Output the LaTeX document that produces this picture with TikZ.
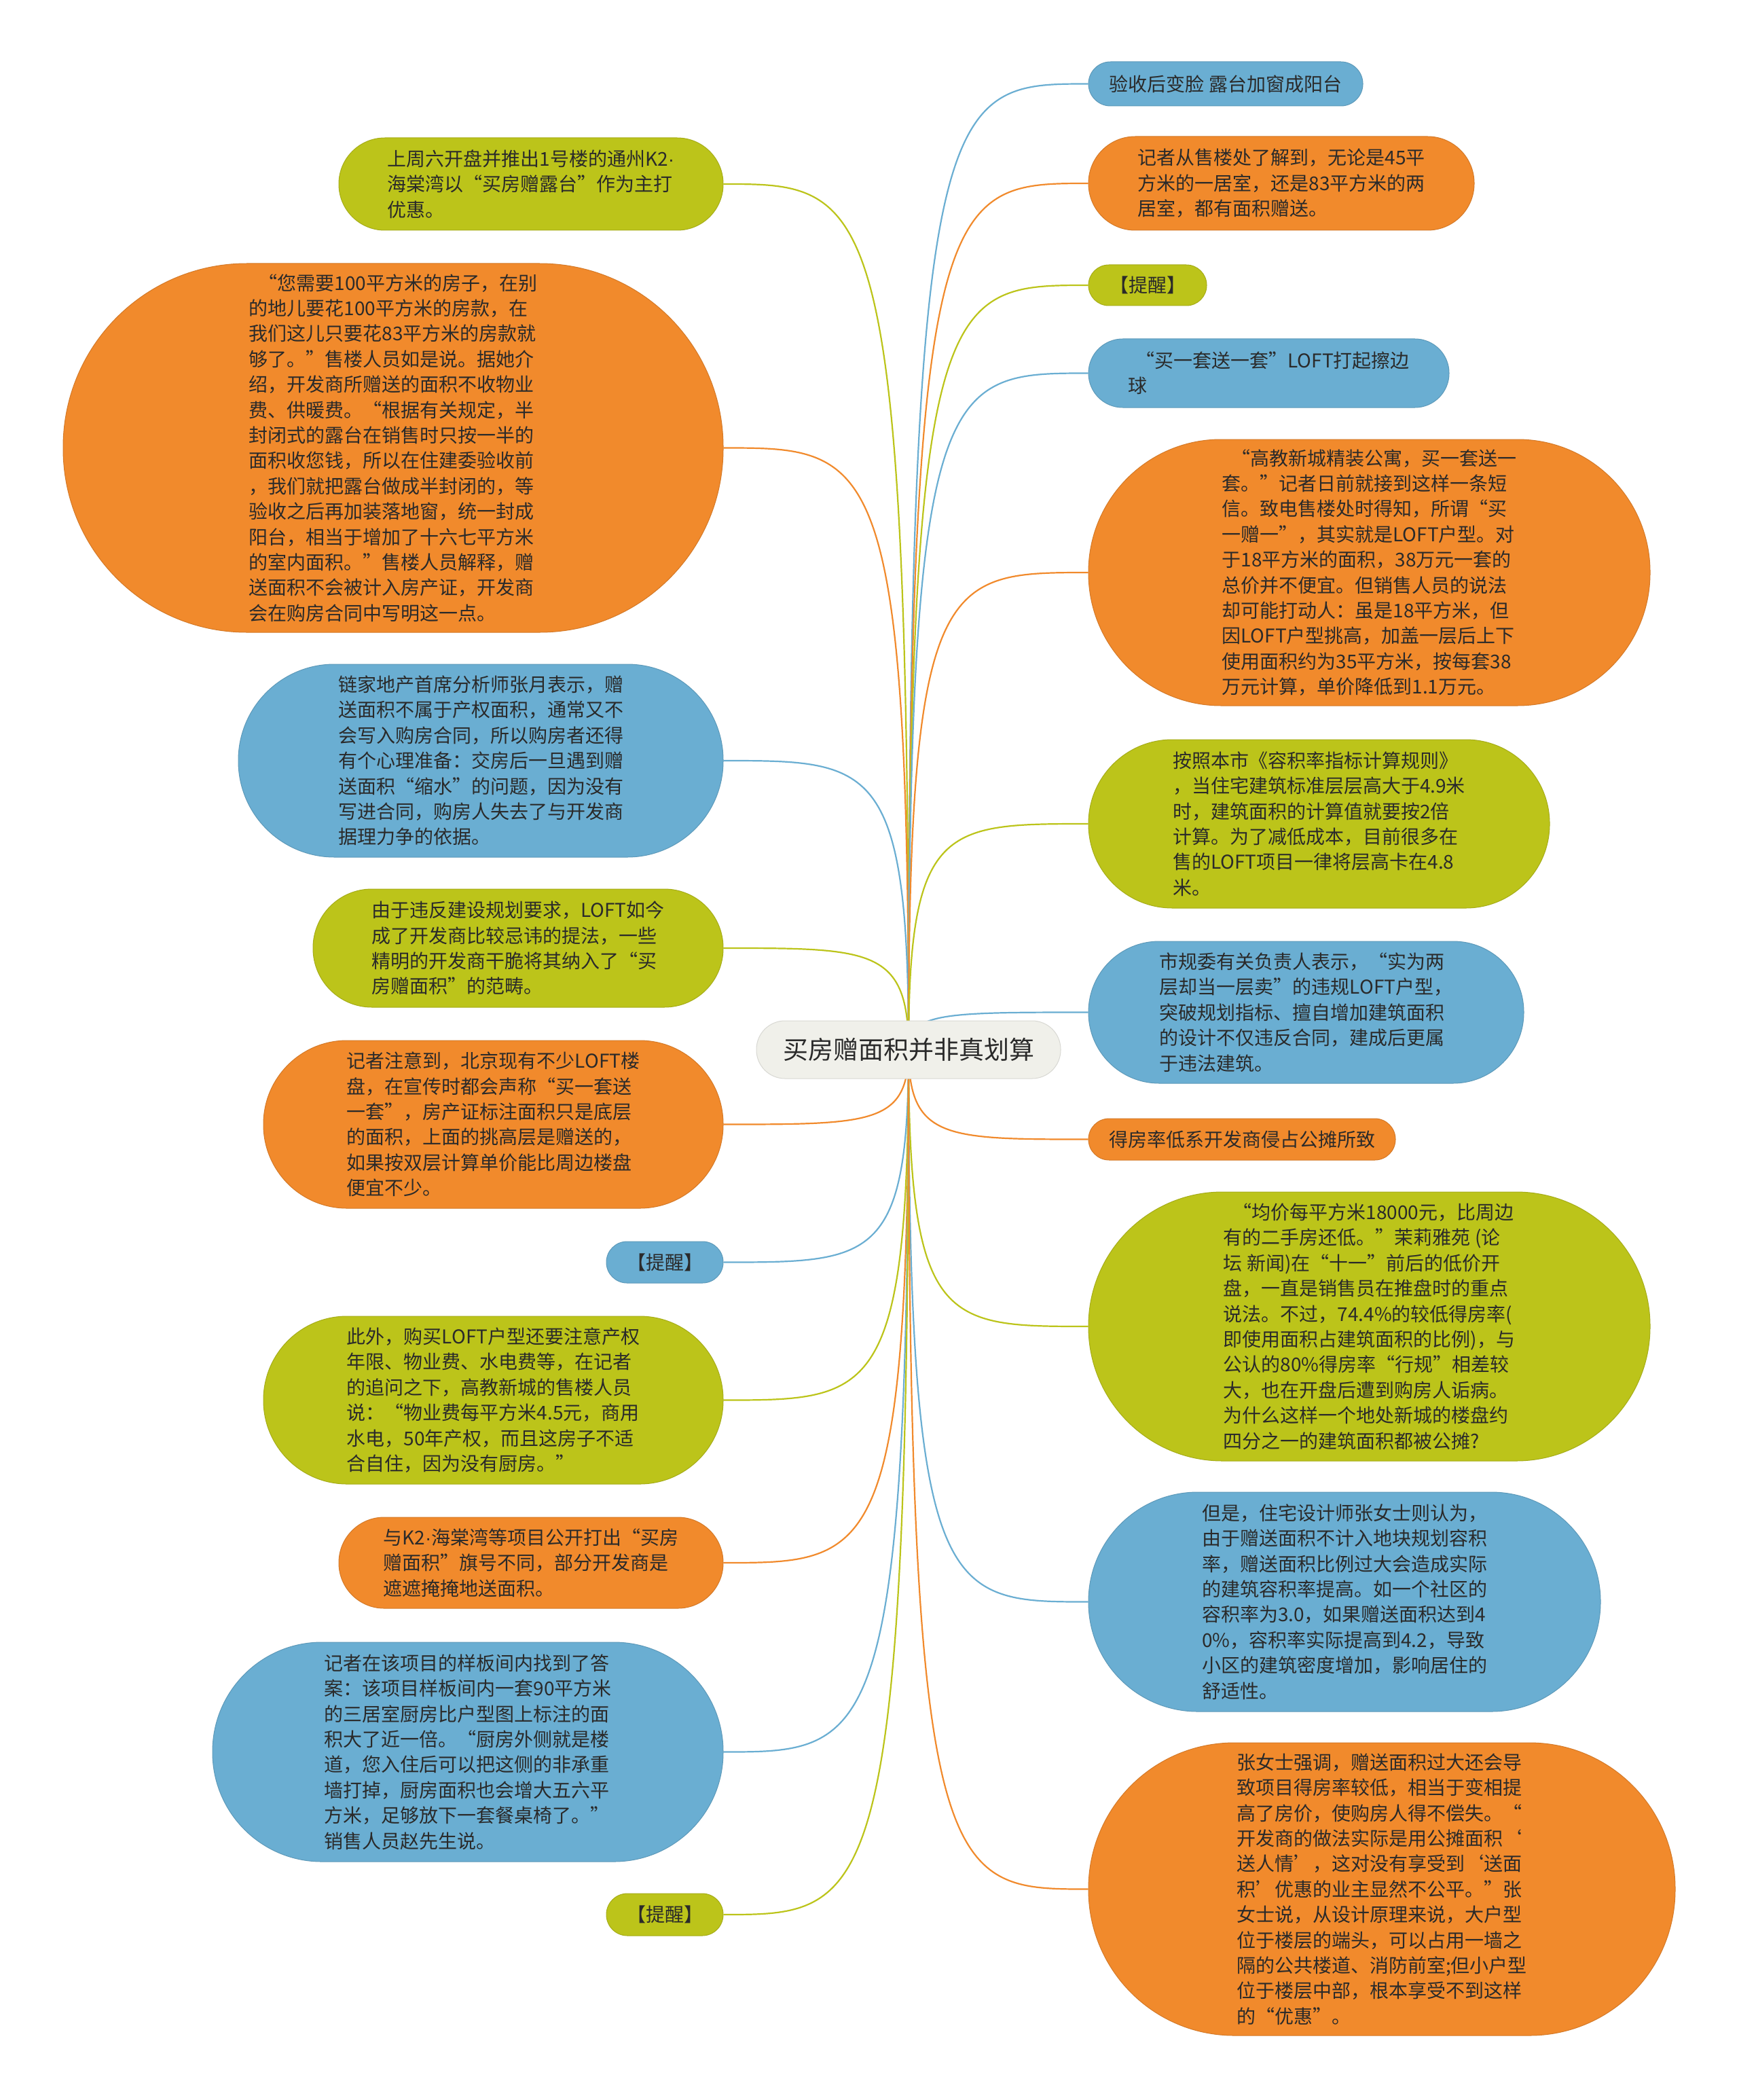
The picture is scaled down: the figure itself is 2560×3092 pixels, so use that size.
\documentclass[tikz,border=0pt]{standalone}
\usepackage{fontspec}
\newfontfamily\cjk{Noto Sans CJK SC}
\newfontfamily\latf{Liberation Sans}
\newcommand\mdot{{\latf ·}}
\usetikzlibrary{calc,backgrounds}
\definecolor{mo}{HTML}{F18A2C}
\definecolor{mg}{HTML}{BCC41A}
\definecolor{mb}{HTML}{6AAED2}
\definecolor{mc}{HTML}{F0F0EA}
\definecolor{mt}{HTML}{2A2A2A}
\tikzset{
  bubble/.style={inner sep=0pt, align=left, text=mt, font=\cjk\fontsize{14}{18.7}\selectfont, line width=0.5pt},
  link/.style={line width=1.1pt},
}
\newcommand\mmbubble[7]{%
 \pgfmathsetmacro\mmw{(#5-#3)*0.5}%
 \pgfmathsetmacro\mmh{(#6-#4)*0.5}%
 \pgfmathsetmacro\mmr{(#6-#4)*0.249}%
 \node[bubble, fill=#2, draw=#2!88!black, minimum width=\mmw pt, minimum height=\mmh pt, rounded corners=\mmr pt] (#1) at ({(#3+#5)/2},{(#4+#6)/2}) {#7};}
\newcommand\mmlink[3]{%
 \draw[link, #1] (c.center) .. controls (c.center |- #2.#3) and ($(c.center |- #2.#3)!0.2!(#2.#3)$) .. (#2.#3);}
\begin{document}
\begin{tikzpicture}[x=0.5pt,y=-0.5pt]
\useasboundingbox (0,0) rectangle (2560,3092);

% center
\node[bubble, fill=mc, draw=mc!90!black, minimum width=224pt, minimum height=42.5pt, rounded corners=21pt, font=\cjk\fontsize{18.5}{22}\selectfont] (c) at (1338,1545.5) {买房赠面积并非真划算};

% left
\mmbubble{L1}{mg}{499}{203}{1065}{339}{上周六开盘并推出1号楼的通州K2\mdot\\海棠湾以“买房赠露台”作为主打\\优惠。}
\mmbubble{L2}{mo}{93}{388}{1065}{931}{\hspace*{0.5em}“您需要100平方米的房子，在别\\的地儿要花100平方米的房款，在\\我们这儿只要花83平方米的房款就\\够了。”售楼人员如是说。据她介\\绍，开发商所赠送的面积不收物业\\费、供暖费。“根据有关规定，半\\封闭式的露台在销售时只按一半的\\面积收您钱，所以在住建委验收前\\，我们就把露台做成半封闭的，等\\验收之后再加装落地窗，统一封成\\阳台，相当于增加了十六七平方米\\的室内面积。”售楼人员解释，赠\\送面积不会被计入房产证，开发商\\会在购房合同中写明这一点。}
\mmbubble{L3}{mb}{351}{978}{1065}{1262}{链家地产首席分析师张月表示，赠\\送面积不属于产权面积，通常又不\\会写入购房合同，所以购房者还得\\有个心理准备：交房后一旦遇到赠\\送面积“缩水”的问题，因为没有\\写进合同，购房人失去了与开发商\\据理力争的依据。}
\mmbubble{L4}{mg}{461}{1309}{1065}{1483}{由于违反建设规划要求，LOFT如今\\成了开发商比较忌讳的提法，一些\\精明的开发商干脆将其纳入了“买\\房赠面积”的范畴。}
\mmbubble{L5}{mo}{388}{1532}{1065}{1779}{记者注意到，北京现有不少LOFT楼\\盘，在宣传时都会声称“买一套送\\一套”，房产证标注面积只是底层\\的面积，上面的挑高层是赠送的，\\如果按双层计算单价能比周边楼盘\\便宜不少。}
\mmbubble{L6}{mb}{893}{1828}{1065}{1889}{【提醒】}
\mmbubble{L7}{mg}{388}{1938}{1065}{2185}{此外，购买LOFT户型还要注意产权\\年限、物业费、水电费等，在记者\\的追问之下，高教新城的售楼人员\\说：“物业费每平方米4.5元，商用\\水电，50年产权，而且这房子不适\\合自住，因为没有厨房。”}
\mmbubble{L8}{mo}{499}{2234}{1065}{2368}{与K2\mdot 海棠湾等项目公开打出“买房\\赠面积”旗号不同，部分开发商是\\遮遮掩掩地送面积。}
\mmbubble{L9}{mb}{313}{2418}{1065}{2741}{记者在该项目的样板间内找到了答\\案：该项目样板间内一套90平方米\\的三居室厨房比户型图上标注的面\\积大了近一倍。“厨房外侧就是楼\\道，您入住后可以把这侧的非承重\\墙打掉，厨房面积也会增大五六平\\方米，足够放下一套餐桌椅了。”\\销售人员赵先生说。}
\mmbubble{L10}{mg}{893}{2788}{1065}{2850}{【提醒】}

% right
\mmbubble{R1}{mb}{1603}{91}{2007}{156}{验收后变脸 露台加窗成阳台}
\mmbubble{R2}{mo}{1603}{201}{2171}{339}{记者从售楼处了解到，无论是45平\\方米的一居室，还是83平方米的两\\居室，都有面积赠送。}
\mmbubble{R3}{mg}{1603}{390}{1777}{450}{【提醒】}
\mmbubble{R4}{mb}{1603}{499}{2134}{600}{\hspace*{0.4em}“买一套送一套”LOFT打起擦边\\球}
\mmbubble{R5}{mo}{1603}{647}{2430}{1039}{\hspace*{0.5em}“高教新城精装公寓，买一套送一\\套。”记者日前就接到这样一条短\\信。致电售楼处时得知，所谓“买\\一赠一”，其实就是LOFT户型。对\\于18平方米的面积，38万元一套的\\总价并不便宜。但销售人员的说法\\却可能打动人：虽是18平方米，但\\因LOFT户型挑高，加盖一层后上下\\使用面积约为35平方米，按每套38\\万元计算，单价降低到1.1万元。}
\mmbubble{R6}{mg}{1603}{1089}{2282}{1337}{按照本市《容积率指标计算规则》\\，当住宅建筑标准层层高大于4.9米\\时，建筑面积的计算值就要按2倍\\计算。为了减低成本，目前很多在\\售的LOFT项目一律将层高卡在4.8\\米。}
\mmbubble{R7}{mb}{1603}{1386}{2244}{1595}{市规委有关负责人表示，“实为两\\层却当一层卖”的违规LOFT户型，\\突破规划指标、擅自增加建筑面积\\的设计不仅违反合同，建成后更属\\于违法建筑。}
\mmbubble{R8}{mo}{1603}{1647}{2055}{1708}{得房率低系开发商侵占公摊所致}
\mmbubble{R9}{mg}{1603}{1755}{2430}{2151}{\hspace*{0.5em}“均价每平方米18000元，比周边\\有的二手房还低。”茉莉雅苑 (论\\坛 新闻)在“十一”前后的低价开\\盘，一直是销售员在推盘时的重点\\说法。不过，74.4\%的较低得房率(\\即使用面积占建筑面积的比例)，与\\公认的80\%得房率“行规”相差较\\大，也在开盘后遭到购房人诟病。\\为什么这样一个地处新城的楼盘约\\四分之一的建筑面积都被公摊?}
\mmbubble{R10}{mb}{1603}{2197}{2357}{2520}{但是，住宅设计师张女士则认为，\\由于赠送面积不计入地块规划容积\\率，赠送面积比例过大会造成实际\\的建筑容积率提高。如一个社区的\\容积率为3.0，如果赠送面积达到4\\0\%，容积率实际提高到4.2，导致\\小区的建筑密度增加，影响居住的\\舒适性。}
\mmbubble{R11}{mo}{1603}{2566}{2467}{2997}{张女士强调，赠送面积过大还会导\\致项目得房率较低，相当于变相提\\高了房价，使购房人得不偿失。“\\开发商的做法实际是用公摊面积‘\\送人情’，这对没有享受到‘送面\\积’优惠的业主显然不公平。”张\\女士说，从设计原理来说，大户型\\位于楼层的端头，可以占用一墙之\\隔的公共楼道、消防前室;但小户型\\位于楼层中部，根本享受不到这样\\的“优惠”。}

\begin{scope}[on background layer]
\fill[white] (0,0) rectangle (2560,3092);
\mmlink{mg}{L1}{east}
\mmlink{mo}{L2}{east}
\mmlink{mb}{L3}{east}
\mmlink{mg}{L4}{east}
\mmlink{mo}{L5}{east}
\mmlink{mb}{L6}{east}
\mmlink{mg}{L7}{east}
\mmlink{mo}{L8}{east}
\mmlink{mb}{L9}{east}
\mmlink{mg}{L10}{east}
\mmlink{mb}{R1}{west}
\mmlink{mo}{R2}{west}
\mmlink{mg}{R3}{west}
\mmlink{mb}{R4}{west}
\mmlink{mo}{R5}{west}
\mmlink{mg}{R6}{west}
\mmlink{mb}{R7}{west}
\mmlink{mo}{R8}{west}
\mmlink{mg}{R9}{west}
\mmlink{mb}{R10}{west}
\mmlink{mo}{R11}{west}
\end{scope}
\end{tikzpicture}
\end{document}
